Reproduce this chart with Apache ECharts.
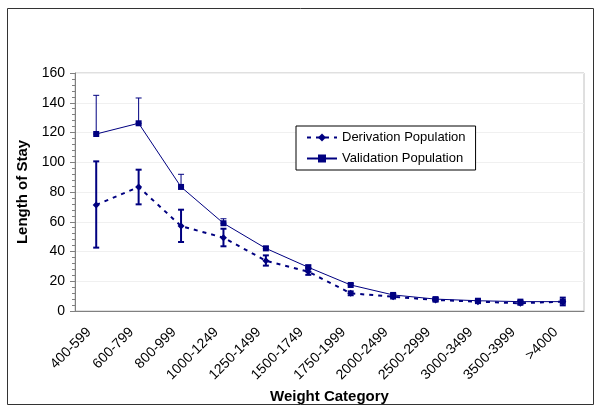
<!DOCTYPE html>
<html>
<head>
<meta charset="utf-8">
<script src="https://cdn.jsdelivr.net/npm/echarts@6/dist/echarts.min.js"></script>
<style>html,body{margin:0;padding:0;background:#fff}#c{width:600px;height:410px}</style>
</head>
<body>
<div id="c"></div>
<script>
const categories = ['400-599','600-799','800-999','1000-1249','1250-1499','1500-1749','1750-1999','2000-2499','2500-2999','3000-3499','3500-3999','>4000'];
const derivationMean = [71.3, 83.4, 57.1, 49.3, 33.8, 26.4, 11.9, 9.6, 7.4, 6.3, 5.2, 6.3];
const derivationLow  = [42.6, 71.7, 46.4, 43.5, 30.5, 24.3, 10.6, 8.4, 6.3, 5.3, 4.2, 3.8];
const derivationHigh = [100.6, 95.0, 68.1, 55.3, 37.4, 28.6, 13.2, 11.0, 8.6, 7.4, 6.4, 9.0];
const validationMean = [119.0, 126.2, 83.4, 59.0, 42.1, 29.4, 17.5, 10.8, 8.0, 6.9, 6.3, 6.3];
const validationHigh = [145.0, 143.2, 91.9, 62.0, 43.5, 30.9, 18.5, 11.8, 9.0, 7.8, 7.2, 7.3];
const yTicks = [0, 20, 40, 60, 80, 100, 120, 140, 160];

const navy = '#000080';
const chart = echarts.init(document.getElementById('c'), null, {renderer: 'canvas'});

function errBar(lowArr, highArr, width, cap) {
  return {
    type: 'custom',
    silent: true,
    z: 3,
    data: categories.map((c, i) => [i, lowArr[i], highArr[i]]),
    encode: {x: 0, y: [1, 2]},
    renderItem: function (params, api) {
      const i = api.value(0);
      const lo = api.coord([i, api.value(1)]);
      const hi = api.coord([i, api.value(2)]);
      const st = {stroke: navy, lineWidth: width};
      return {
        type: 'group',
        children: [
          {type: 'line', shape: {x1: lo[0], y1: lo[1], x2: hi[0], y2: hi[1]}, style: st},
          {type: 'line', shape: {x1: hi[0] - cap, y1: hi[1], x2: hi[0] + cap, y2: hi[1]}, style: st},
          {type: 'line', shape: {x1: lo[0] - cap, y1: lo[1], x2: lo[0] + cap, y2: lo[1]}, style: st}
        ]
      };
    }
  };
}

chart.setOption({
  animation: false,
  backgroundColor: '#fff',
  textStyle: {fontFamily: 'Liberation Sans, Arial, sans-serif'},
  graphic: [{
    type: 'rect', z: -1,
    shape: {x: 7.5, y: 8.5, width: 586, height: 396},
    style: {fill: 'none', stroke: '#333', lineWidth: 1}
  }],
  grid: {left: 75, right: 16, top: 73, bottom: 99, show: true, borderColor: '#c0c0c0', borderWidth: 1},
  legend: {
    left: 296, top: 126, orient: 'vertical',
    width: 182,
    padding: [5, 10, 5, 10],
    itemGap: 8,
    itemWidth: 30, itemHeight: 10,
    borderColor: '#000', borderWidth: 1,
    backgroundColor: '#fff',
    textStyle: {fontSize: 13, color: '#000', fontFamily: 'Liberation Sans, Arial, sans-serif'},
    data: ['Derivation Population', 'Validation Population']
  },
  xAxis: {
    type: 'category',
    data: categories,
    boundaryGap: true,
    name: 'Weight Category',
    nameLocation: 'middle',
    nameGap: 74,
    nameTextStyle: {fontSize: 15, fontWeight: 'bold', color: '#000'},
    axisLine: {lineStyle: {color: '#808080'}},
    axisTick: {length: 5, lineStyle: {color: '#808080'}},
    axisLabel: {rotate: 45, fontSize: 14, color: '#000', margin: 12, interval: 0, padding: [0, 10, 0, 0]},
    splitLine: {show: false}
  },
  yAxis: {
    type: 'value',
    min: yTicks[0], max: yTicks[yTicks.length - 1], interval: 20,
    name: 'Length of Stay',
    nameLocation: 'middle',
    nameGap: 44,
    nameTextStyle: {fontSize: 15, fontWeight: 'bold', color: '#000'},
    axisLine: {show: true, lineStyle: {color: '#808080'}},
    axisTick: {show: true, length: 5, lineStyle: {color: '#808080'}},
    minorTick: {show: true, splitNumber: 5, length: 3, lineStyle: {color: '#808080'}},
    axisLabel: {fontSize: 14, color: '#000', margin: 10},
    splitLine: {show: true, lineStyle: {color: '#f0f0f0'}}
  },
  series: [
    {
      name: 'Derivation Population',
      type: 'line',
      data: derivationMean,
      symbol: 'diamond', symbolSize: 7,
      itemStyle: {color: navy},
      lineStyle: {color: navy, width: 2, type: [4, 5]},
      z: 4
    },
    {
      name: 'Validation Population',
      type: 'line',
      data: validationMean,
      symbol: 'rect', symbolSize: 6,
      itemStyle: {color: navy},
      lineStyle: {color: navy, width: 1},
      z: 4
    },
    errBar(derivationLow, derivationHigh, 2, 3),
    errBar(validationMean, validationHigh, 1, 3)
  ]
});
</script>
</body>
</html>
